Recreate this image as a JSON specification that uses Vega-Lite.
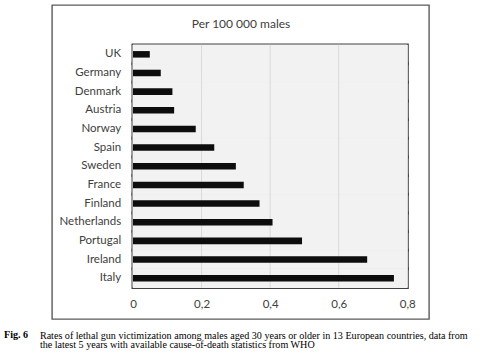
{
  "$schema": "https://vega.github.io/schema/vega-lite/v6.json",
  "width": 377,
  "height": 314,
  "autosize": {"type": "none"},
  "padding": {"left": 52, "top": 5, "right": 52, "bottom": 40},
  "background": "white",
  "config": {
    "view": {"stroke": "#5a5a5a", "strokeWidth": 1.4, "fill": "white"},
    "font": "Lato"
  },
  "title": {
    "text": "Fig. 6",
    "orient": "top",
    "anchor": "start",
    "frame": "group",
    "offset": -343,
    "dx": -48,
    "baseline": "alphabetic",
    "font": "Liberation Serif",
    "fontSize": 10.1,
    "fontWeight": "bold",
    "color": "black"
  },
  "data": {
    "values": [
      {"country": "UK", "rate": 0.049},
      {"country": "Germany", "rate": 0.081},
      {"country": "Denmark", "rate": 0.115},
      {"country": "Austria", "rate": 0.12},
      {"country": "Norway", "rate": 0.183},
      {"country": "Spain", "rate": 0.237},
      {"country": "Sweden", "rate": 0.3},
      {"country": "France", "rate": 0.323},
      {"country": "Finland", "rate": 0.369},
      {"country": "Netherlands", "rate": 0.407},
      {"country": "Portugal", "rate": 0.493},
      {"country": "Ireland", "rate": 0.683},
      {"country": "Italy", "rate": 0.761}
    ]
  },
  "layer": [
    {
      "mark": {"type": "rect", "fill": "#404040", "stroke": "#404040", "strokeWidth": 3},
      "encoding": {
        "x": {"datum": 0, "type": "quantitative"},
        "x2": {"datum": 0.8},
        "y": {"field": "country", "type": "nominal", "sort": null}
      }
    },
    {
      "mark": {"type": "rect", "fill": "#f2f2f2", "stroke": "#f2f2f2", "strokeWidth": 1},
      "encoding": {
        "x": {"datum": 0, "type": "quantitative"},
        "x2": {"datum": 0.8},
        "y": {"field": "country", "type": "nominal", "sort": null}
      }
    },
    {
      "mark": {"type": "tick", "color": "#d9d9d9", "thickness": 1, "size": 19, "opacity": 1},
      "encoding": {
        "x": {"datum": 0.2, "type": "quantitative"},
        "y": {"field": "country", "type": "nominal", "sort": null}
      }
    },
    {
      "mark": {"type": "tick", "color": "#d9d9d9", "thickness": 1, "size": 19, "opacity": 1},
      "encoding": {
        "x": {"datum": 0.4, "type": "quantitative"},
        "y": {"field": "country", "type": "nominal", "sort": null}
      }
    },
    {
      "mark": {"type": "tick", "color": "#d9d9d9", "thickness": 1, "size": 19, "opacity": 1},
      "encoding": {
        "x": {"datum": 0.6, "type": "quantitative"},
        "y": {"field": "country", "type": "nominal", "sort": null}
      }
    },
    {
      "mark": {"type": "bar", "color": "#0d0d0d", "height": {"band": 0.35}},
      "encoding": {
        "y": {
          "field": "country",
          "type": "nominal",
          "sort": null,
          "scale": {
            "type": "band",
            "domain": ["UK", "Germany", "Denmark", "Austria", "Norway", "Spain", "Sweden", "France", "Finland", "Netherlands", "Portugal", "Ireland", "Italy"],
            "range": [40, 282.5],
            "paddingInner": 0,
            "paddingOuter": 0
          },
          "axis": {
            "orient": "left",
            "offset": -81,
            "ticks": false,
            "tickSize": 0,
            "domain": false,
            "grid": false,
            "labelPadding": 12.3,
            "labelFont": "Lato",
            "labelFontSize": 11.5,
            "labelColor": "#404040",
            "title": [
              "Rates of lethal gun victimization among males aged 30 years or older in 13 European countries, data from",
              "the latest 5 years with available cause-of-death statistics from WHO"
            ],
            "titleAngle": 0,
            "titleAlign": "left",
            "titleBaseline": "alphabetic",
            "titleX": -93.6,
            "titleY": 333,
            "titleFont": "Liberation Serif",
            "titleFontSize": 10.1,
            "titleFontWeight": "normal",
            "titleColor": "black",
            "titleLineHeight": 9.8
          }
        },
        "x": {
          "field": "rate",
          "type": "quantitative",
          "scale": {"domain": [-0.2362, 0.8633], "nice": false, "zero": false},
          "axis": {
            "orient": "bottom",
            "offset": -31.5,
            "values": [0, 0.2, 0.4, 0.6, 0.8],
            "labelExpr": "datum.value == 0 ? '0' : replace(format(datum.value, '.1f'), '.', ',')",
            "ticks": false,
            "tickSize": 0,
            "domain": false,
            "grid": false,
            "labelPadding": 20,
            "labelBaseline": "alphabetic",
            "labelFont": "Lato",
            "labelFontSize": 11.5,
            "labelColor": "#404040",
            "title": "Per 100 000 males",
            "titleY": -260,
            "titleBaseline": "alphabetic",
            "titleFont": "Lato",
            "titleFontSize": 12,
            "titleFontWeight": "normal",
            "titleColor": "#404040"
          }
        },
        "x2": {"datum": 0}
      }
    }
  ]
}
